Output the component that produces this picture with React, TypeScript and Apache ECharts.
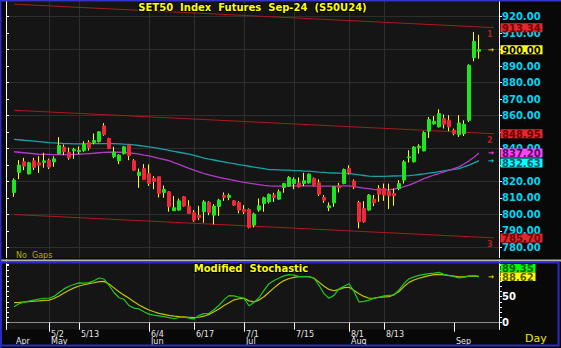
import React, { useEffect, useRef } from "react";
import * as echarts from "echarts";

const dates = [
  "4/22","4/23","4/24","4/25","4/26","4/29","4/30",
  "5/2","5/3","5/7","5/8","5/9","5/10","5/13","5/14","5/15","5/16","5/17","5/20","5/21","5/23","5/24","5/27","5/28","5/29","5/30","5/31",
  "6/4","6/5","6/6","6/7","6/10","6/11","6/12","6/13","6/14","6/17","6/18","6/19","6/20","6/21","6/24","6/25","6/26","6/27","6/28",
  "7/1","7/2","7/3","7/4","7/5","7/8","7/9","7/10","7/11","7/12","7/15","7/16","7/17","7/18","7/19","7/23","7/24","7/25","7/26","7/30","7/31",
  "8/1","8/2","8/5","8/6","8/7","8/8","8/9","8/13","8/14","8/15","8/16","8/19","8/20","8/21","8/22","8/23","8/26","8/27","8/28","8/29","8/30",
  "9/2","9/3","9/4","9/5","9/6","9/9",
];

const opens = [
  813.3,825.5,832.0,824.6,832.5,831.3,831.5,832.9,831.9,836.8,
  840.8,837.6,838.6,838.0,838.8,843.6,843.6,844.2,853.7,846.1,
  835.2,832.5,836.8,842.2,832.5,823.6,827.8,824.8,821.8,822.8,
  813.3,813.7,802.2,802.6,810.7,805.0,801.0,799.3,801.6,807.4,
  799.5,804.8,811.5,810.3,808.2,807.2,803.0,803.0,793.5,802.6,
  806.6,807.6,811.7,809.2,816.3,817.1,818.7,819.1,818.7,819.1,
  821.8,819.1,810.3,804.0,807.0,817.3,818.7,827.8,820.2,807.2,
  803.6,802.6,809.2,815.7,815.7,814.1,812.7,815.7,820.8,834.4,
  831.9,840.4,838.5,850.5,854.9,853.1,858.1,857.1,851.1,848.4,
  849.0,857.1,895.1,899.0,
];
const closes = [
  820.8,829.9,829.3,831.3,828.5,829.9,832.5,828.7,833.7,841.8,
  838.0,834.3,839.4,838.8,842.6,840.4,844.9,850.1,848.5,840.0,
  837.8,836.0,841.0,835.6,826.8,825.6,821.2,818.7,820.0,812.7,
  815.1,804.6,804.0,808.2,805.0,800.6,796.5,798.1,807.6,801.2,
  805.0,808.6,810.3,811.5,805.6,802.6,801.6,792.1,800.2,805.2,
  810.1,812.1,810.3,813.7,818.7,822.4,821.2,816.7,820.4,824.4,
  817.7,812.3,808.6,805.2,816.7,816.3,827.2,825.2,816.7,795.5,
  795.5,811.7,807.0,812.3,811.7,811.3,811.3,818.7,831.9,834.9,
  840.8,841.4,849.6,857.5,856.5,861.2,854.7,853.1,849.0,855.5,
  854.7,890.5,905.0,900.0,
];
const lows = [
  810.7,821.4,826.9,824.2,826.9,825.2,828.3,827.5,828.9,836.6,
  836.0,833.1,833.7,836.6,838.0,838.8,842.6,843.6,847.7,839.6,
  834.1,830.5,836.4,832.9,826.4,816.1,820.8,817.3,815.3,810.3,
  810.1,801.6,802.2,802.2,804.6,800.2,795.5,796.5,794.9,799.5,
  793.9,799.1,808.2,808.6,805.2,800.6,800.2,791.5,792.1,801.6,
  801.6,806.6,807.6,809.0,813.1,816.7,815.3,816.3,817.1,818.7,
  817.1,811.1,807.0,802.0,804.6,813.3,818.3,824.2,815.3,791.5,
  794.9,802.2,805.0,807.6,808.2,803.2,805.2,814.7,818.7,831.5,
  831.5,836.9,838.3,846.4,854.5,852.7,852.1,850.5,848.0,847.0,
  847.6,856.1,892.9,894.5,
];
const highs = [
  821.8,832.9,834.3,831.9,834.3,835.3,837.4,833.9,835.3,846.9,
  842.4,840.6,840.4,841.2,844.4,845.0,849.1,850.5,855.4,846.5,
  841.0,836.6,841.4,842.4,833.5,827.8,830.5,830.3,823.2,822.8,
  817.5,814.1,811.1,809.6,811.1,808.6,802.6,805.2,808.6,808.0,
  806.2,809.4,813.3,812.7,808.6,808.0,805.6,803.6,801.0,809.6,
  810.7,812.7,813.1,815.1,819.1,823.2,822.4,822.4,825.2,824.8,
  822.4,821.2,811.7,807.2,817.1,819.1,827.8,829.8,821.2,808.2,
  808.0,812.3,811.7,817.7,818.7,818.7,815.7,820.8,832.9,838.9,
  841.4,842.6,850.5,859.1,859.7,863.8,860.6,860.2,852.1,860.2,
  857.1,891.1,910.7,909.0,
];

const maLong = [
  845.5,845.3,845.0,844.8,844.5,844.2,843.9,843.6,843.4,843.2,
  843.0,842.9,842.8,842.8,842.8,842.9,842.9,843.0,843.0,843.0,
  842.9,842.8,842.6,842.5,842.2,841.8,841.4,841.0,840.5,840.0,
  839.4,838.9,838.3,837.7,837.1,836.5,835.8,835.0,834.2,833.5,
  833.0,832.4,831.9,831.3,830.8,830.2,829.7,829.2,828.7,828.2,
  827.7,827.2,827.1,827.0,826.9,826.8,826.6,826.5,826.3,826.2,
  826.0,825.7,825.5,825.2,825.1,825.0,824.9,824.8,824.4,824.0,
  823.6,823.2,823.0,823.0,823.1,823.2,823.3,823.4,823.4,823.5,
  823.8,824.2,824.6,825.0,825.4,825.9,826.4,826.9,827.3,827.8,
  828.8,829.9,831.3,832.63,
];
const maShort = [
  838.0,837.7,837.4,837.1,836.8,836.5,836.4,836.4,836.3,836.3,
  836.3,836.3,836.4,836.5,836.7,836.9,837.1,837.4,837.6,837.7,
  837.7,837.7,837.6,837.4,837.0,836.6,836.0,835.5,834.8,834.0,
  833.3,832.6,831.4,830.3,829.1,827.9,826.8,825.8,824.8,823.9,
  823.2,822.5,821.8,821.2,820.6,820.0,819.4,818.9,818.5,818.0,
  817.6,817.3,817.2,817.2,817.2,817.3,817.3,817.3,817.3,817.3,
  817.2,817.1,817.1,817.1,817.2,817.2,817.3,817.3,816.9,816.4,
  815.9,815.6,815.2,814.9,814.8,815.0,815.3,816.0,816.9,817.7,
  819.0,820.3,821.7,822.8,823.9,824.8,825.8,826.8,827.7,828.8,
  830.6,832.5,834.7,837.2,
];

const stochK = [
  30.8,36.5,39.5,41.5,43.5,45.5,47.0,47.0,50.5,58.0,
  65.0,70.0,73.5,76.5,76.0,77.0,80.5,86.0,84.0,72.0,
  58.0,48.0,45.0,33.0,28.0,26.5,21.0,16.5,14.5,13.0,
  11.5,9.8,7.5,10.0,10.5,8.5,7.2,14.0,17.5,18.0,
  25.0,33.5,44.0,52.0,51.5,49.0,47.0,32.5,39.0,48.0,
  62.0,75.0,81.0,86.0,90.0,92.5,91.5,88.5,88.5,88.5,
  85.5,72.0,56.0,47.0,52.5,65.0,70.0,75.0,60.0,40.0,
  41.0,43.5,46.5,49.0,51.5,52.5,53.3,63.0,75.0,84.5,
  88.0,91.0,93.0,94.5,95.5,96.9,93.0,91.0,88.5,86.0,
  87.5,89.8,90.5,89.35,
];
const stochD = [
  38.5,39.0,39.8,40.5,41.3,42.0,42.8,43.5,46.5,51.5,
  57.0,62.5,67.0,70.5,73.0,75.0,76.8,79.0,79.5,74.5,
  67.0,59.5,53.0,47.0,40.5,34.0,29.0,24.5,21.0,18.0,
  16.0,14.0,12.5,11.8,11.2,10.5,9.8,10.5,12.5,16.0,
  21.0,26.5,33.0,38.5,44.0,46.0,46.9,42.0,40.0,43.5,
  50.0,58.5,67.0,75.0,81.0,85.0,87.0,88.5,88.5,88.5,
  85.5,78.0,70.0,64.0,61.5,64.0,67.5,68.0,62.0,55.5,
  50.5,47.0,47.5,48.8,49.5,50.1,54.0,60.0,69.5,77.5,
  82.0,85.5,88.0,90.5,92.5,93.0,91.8,90.5,89.8,88.0,
  88.0,89.5,89.5,88.62,
];

const channelStart = [927.6, 863.2, 799.9];
const channelEnd = [913.34, 848.95, 785.7];
const channelNames = ["1", "2", "3"];

const dateLabels = ["5/2", "5/13", "6/4", "6/17", "7/1", "7/15", "8/1", "8/13"];
const monthStarts = ["4/22", "5/2", "6/4", "7/1", "8/1", "9/2"];
const monthNames = ["Apr", "May", "Jun", "Jul", "Aug", "Sep"];

const mainTitle = "SET50  Index  Futures  Sep-24  (S50U24)";
const stochTitle = "Modified  Stochastic";

const FONT = '"DejaVu Sans"';
const GRID = "#2e2e2e";
const UP = "#1ee61e";
const DOWN = "#f0283a";
const WICK = "#ffff00";

export default function App() {
  const ref = useRef<HTMLDivElement>(null);

  useEffect(() => {
    if (!ref.current) return;
    const chart = echarts.init(ref.current, null, { renderer: "svg" });

    const cats = ["pad0", ...dates, "pad95", "pad96", "pad97", "pad98"];
    const lastK = cats.length - 2;
    const dateSet = new Set(dateLabels);
    const monthMap = new Map<string, string>(monthStarts.map((d, i) => [d, monthNames[i]]));
    const isDate = (i: number) => dateSet.has(cats[i]);
    const isMonth = (i: number) => monthMap.has(cats[i]);
    const isMonthTick = (i: number) => monthMap.has(cats[i]) && cats[i] !== monthStarts[0];

    const bodies = dates.map((_, i) => [
      i + 1, opens[i], closes[i], Math.min(opens[i], closes[i]), Math.max(opens[i], closes[i]),
    ]);
    const wicks = dates.map((_, i) => [i + 1, lows[i], lows[i], lows[i], highs[i]]);

    const channelSeries = channelStart.map((s, j) => ({
      type: "line",
      xAxisIndex: 0,
      yAxisIndex: 1,
      data: [[1, s], [lastK, channelEnd[j]]],
      symbol: "none",
      silent: true,
      lineStyle: { color: "#a81c1c", width: 1 },
      z: 2,
    }));

    const priceLabelStyle = {
      show: true, margin: 3, color: "#00d4f0", fontSize: 10, fontWeight: "bold", fontFamily: FONT,
    };

    const option: any = {
      animation: false,
      backgroundColor: "transparent",
      grid: [
        { left: 9, width: 490, top: 0.23, height: 263.54, outerBoundsMode: "none", containLabel: false },
        { left: 9, width: 490, top: 263, height: 66.5, outerBoundsMode: "none", containLabel: false },
      ],
      xAxis: [
        {
          type: "category", gridIndex: 0, data: cats, boundaryGap: false,
          axisLine: { show: false }, axisTick: { show: false }, axisLabel: { show: false },
          splitLine: { show: true, interval: (i: number) => isDate(i), lineStyle: { color: GRID, width: 1 } },
        },
        {
          type: "category", gridIndex: 1, data: cats, boundaryGap: false, position: "bottom",
          axisLine: { show: true, lineStyle: { color: "#e8e8e8", width: 1 } },
          axisTick: { show: true, interval: (i: number) => isDate(i), length: 7, lineStyle: { color: "#ffffff" } },
          axisLabel: {
            show: true, interval: (i: number) => isDate(i), formatter: (v: string) => (dateSet.has(v) ? v : ""),
            color: "#e6e6e6", fontSize: 8, fontFamily: FONT, margin: 0, align: "left", padding: [1, 0, 0, 2],
          },
          splitLine: { show: true, interval: (i: number) => isDate(i), lineStyle: { color: GRID, width: 1 } },
        },
        {
          type: "category", gridIndex: 1, data: cats, boundaryGap: false, position: "bottom", offset: 7,
          axisLine: { show: true, lineStyle: { color: "#8c8c8c", width: 1 } },
          axisTick: { show: true, interval: (i: number) => isMonthTick(i), length: 9, lineStyle: { color: "#ffffff" } },
          axisLabel: {
            show: true, interval: (i: number) => isMonth(i), formatter: (v: string) => monthMap.get(v) || "",
            color: "#e6e6e6", fontSize: 8, fontFamily: FONT, margin: 1, align: "left", padding: [0, 0, 0, 2],
          },
          splitLine: { show: false },
        },
      ],
      yAxis: [
        {
          type: "value", gridIndex: 0, position: "left", offset: 3, min: 770, max: 930, interval: 10,
          axisLine: { show: true, lineStyle: { color: "#ffffff", width: 1 } },
          axisTick: { show: true, inside: true, length: 3, lineStyle: { color: "#ffffff" } },
          axisLabel: { show: false }, splitLine: { show: false },
        },
        {
          type: "value", gridIndex: 0, position: "right", min: 770, max: 930, interval: 10,
          axisLine: { show: true, lineStyle: { color: "#ffffff", width: 1 } },
          axisTick: { show: true, inside: false, length: 3, lineStyle: { color: "#ffffff" } },
          axisLabel: {
            ...priceLabelStyle,
            formatter: (v: number) => (v < 780 || v > 920 ? "" : v.toFixed(2)),
          },
          splitLine: { show: true, lineStyle: { color: ["rgba(0,0,0,0)", GRID], width: 1 } },
        },
        {
          type: "value", gridIndex: 1, position: "left", offset: 3, min: -13.1, max: 114.8,
          axisLine: { show: true, lineStyle: { color: "#ffffff", width: 1 } },
          axisTick: { show: true, inside: true, length: 3, customValues: [0, 10, 20, 30, 40, 50, 60, 70, 80, 90, 100, 110], lineStyle: { color: "#ffffff" } },
          axisLabel: { show: false }, splitLine: { show: false },
        },
        {
          type: "value", gridIndex: 1, position: "right", min: -13.1, max: 114.8,
          axisLine: { show: true, lineStyle: { color: "#ffffff", width: 1 } },
          axisTick: { show: true, inside: false, length: 3, customValues: [0, 10, 20, 30, 40, 50, 60, 70, 80, 90, 100, 110], lineStyle: { color: "#ffffff" } },
          axisLabel: {
            show: true, customValues: [0, 50], margin: 3, color: "#ffffff", fontSize: 10, fontWeight: "bold", fontFamily: FONT,
            formatter: (v: number) => String(v),
          },
          splitLine: { show: false },
        },
      ],
      series: [
        ...channelSeries,
        {
          type: "line", xAxisIndex: 0, yAxisIndex: 1, data: maLong.map((v, i) => [i + 1, v]),
          symbol: "none", silent: true, lineStyle: { color: "#16a2a8", width: 1.3 }, z: 3,
        },
        {
          type: "line", xAxisIndex: 0, yAxisIndex: 1, data: maShort.map((v, i) => [i + 1, v]),
          symbol: "none", silent: true, lineStyle: { color: "#b03cc4", width: 1.3 }, z: 3,
        },
        {
          type: "candlestick", xAxisIndex: 0, yAxisIndex: 1, data: wicks, encode: { x: 0, y: [1, 2, 3, 4] },
          barWidth: 1, silent: true, z: 4,
          itemStyle: { color: WICK, color0: WICK, borderColor: WICK, borderColor0: WICK, borderColorDoji: WICK, borderWidth: 1 },
        },
        {
          type: "candlestick", xAxisIndex: 0, yAxisIndex: 1, data: bodies, encode: { x: 0, y: [1, 2, 3, 4] },
          barWidth: 3, silent: true, z: 5,
          itemStyle: { color: UP, color0: DOWN, borderColor: UP, borderColor0: DOWN, borderColorDoji: UP, borderWidth: 1 },
        },
        {
          type: "line", xAxisIndex: 1, yAxisIndex: 3, data: stochD.map((v, i) => [i + 1, v]),
          symbol: "none", silent: true, lineStyle: { color: "#c4c400", width: 1.2 }, z: 3,
        },
        {
          type: "line", xAxisIndex: 1, yAxisIndex: 3, data: stochK.map((v, i) => [i + 1, v]),
          symbol: "none", silent: true, lineStyle: { color: "#1ec81e", width: 1.2 }, z: 3,
        },
      ],
    };

    chart.setOption(option);

    const yM = (v: number) => chart.convertToPixel({ yAxisIndex: 1 } as any, v) as unknown as number;
    const yS = (v: number) => chart.convertToPixel({ yAxisIndex: 3 } as any, v) as unknown as number;
    const xC = (k: number) => chart.convertToPixel({ xAxisIndex: 0 } as any, k) as unknown as number;

    const rect = (x: number, y: number, w: number, h: number, fill: string, z = 100) => ({
      type: "rect", shape: { x, y, width: w, height: h }, style: { fill }, z, silent: true,
    });
    const text = (x: number, y: number, t: string, fill: string, font: string, align = "left", vAlign = "middle", extra: any = {}) => ({
      type: "text", x, y, style: { text: t, fill, font, textAlign: align, textVerticalAlign: vAlign, ...extra }, z: 110, silent: true,
    });

    const els: any[] = [];
    // panel backgrounds
    els.push(rect(6.5, 1.5, 492.5, 256.5, "#151515", -10));
    els.push(rect(6.5, 263, 492.5, 66.5, "#151515", -10));
    // separator and frames
    els.push(rect(0, 258, 561, 1.5, "#060606", 100));
    els.push(rect(0, 259.5, 561, 2, "#b4b4b4", 100));
    els.push({
      type: "rect", shape: { x: 1, y: 262.5, width: 557.5, height: 83 },
      style: { fill: "none", stroke: "#2a2ac8", lineWidth: 2 }, z: 100, silent: true,
    });
    els.push(rect(0, 0, 561, 1.5, "#3434c8", 100));
    els.push(rect(0, 0, 1.5, 348, "#2a2ac0", 100));

    // titles
    els.push(text(252.5, 7.5, mainTitle, "#ffff00", `bold 10px ${FONT}`, "center", "middle", { stroke: "#000000", lineWidth: 2 }));
    els.push(text(251, 268.5, stochTitle, "#ffff00", `bold 10px ${FONT}`, "center", "middle", { stroke: "#000000", lineWidth: 2 }));
    els.push(text(16, 255.5, "No  Gaps", "#b4ac00", `8px ${FONT}`));
    els.push(text(525, 338, "Day", "#e8e800", `11px ${FONT}`));

    // channel numbers
    const xEnd = xC(lastK);
    channelEnd.forEach((v, j) => {
      els.push(text(xEnd - 7, yM(v) + 2.5, channelNames[j], "#b02020", `bold 8px ${FONT}`, "left", "top"));
    });

    // value boxes on the price axis
    const red = { bg: "#e0282e", fg: "#6e0000" };
    const boxes = [
      { v: channelEnd[0], ...red },
      { v: closes[closes.length - 1], bg: "#ffff00", fg: "#000000" },
      { v: channelEnd[1], ...red },
      { v: maShort[maShort.length - 1], bg: "#ff44ff", fg: "#5a005a" },
      { v: maLong[maLong.length - 1], bg: "#00ffff", fg: "#005a66" },
      { v: channelEnd[2], ...red },
    ].sort((a, b) => b.v - a.v);
    let prev = -1e9;
    const boxYs: number[] = [];
    boxes.forEach((b) => {
      const y = Math.max(yM(b.v), prev + 10);
      prev = y;
      boxYs.push(y);
      els.push(rect(500.5, y - 4.5, 42, 9, b.bg, 105));
      els.push(text(502, y + 0.5, b.v.toFixed(2), b.fg, `bold 10px ${FONT}`));
    });

    // arrows
    const arrow = (y: number, color: string) => text(488, y, "→", color, `bold 7px ${FONT}`);
    els.push(arrow(yM(closes[closes.length - 1]), "#e0e000"));
    els.push(arrow(yM(maShort[maShort.length - 1]), "#ff44ff"));
    els.push(arrow(yM(maLong[maLong.length - 1]), "#00e0e0"));

    // stochastic boxes
    const dV = stochD[stochD.length - 1];
    const kV = stochK[stochK.length - 1];
    const yD = yS(dV);
    const yK = Math.min(yS(kV), yD - 8.5);
    els.push(rect(500.5, yK - 4, 35, 8.5, "#00ff00", 105));
    els.push(text(502, yK + 0.5, kV.toFixed(2), "#006000", `bold 10px ${FONT}`));
    els.push(rect(500.5, yD - 4, 35, 8.5, "#ffff00", 105));
    els.push(text(502, yD + 0.5, dV.toFixed(2), "#5a5a00", `bold 10px ${FONT}`));
    els.push(arrow(yD, "#e0e000"));

    // price labels that sit under a value box are covered in the original: leave them out
    const covered = (v: number) => boxYs.some((by) => Math.abs(yM(v) - by) < 4);
    chart.setOption({
      yAxis: [
        {},
        {
          axisLabel: {
            ...priceLabelStyle,
            formatter: (v: number) => (v < 780 || v > 920 || covered(v) ? "" : v.toFixed(2)),
          },
        },
        {},
        {},
      ],
      graphic: { elements: els },
    });

    return () => chart.dispose();
  }, []);

  return (
    <div
      ref={ref}
      style={{ position: "fixed", left: 0, top: 0, width: 561, height: 348, background: "#080808" }}
    />
  );
}
